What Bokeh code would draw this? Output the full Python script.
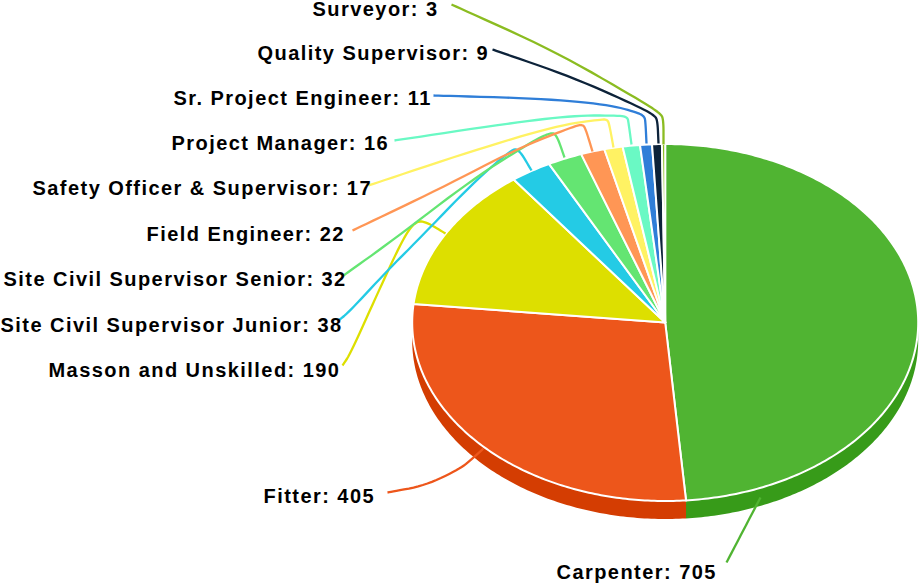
import math
from bokeh.plotting import figure
from bokeh.models import Range1d
from bokeh.core.properties import value
from bokeh.embed import file_html
from bokeh.resources import INLINE

categories = ["Carpenter", "Fitter", "Masson and Unskilled", "Site Civil Supervisor Junior",
              "Site Civil Supervisor Senior", "Field Engineer", "Safety Officer & Supervisor",
              "Project Manager", "Sr. Project Engineer", "Quality Supervisor", "Surveyor"]
values = [705, 405, 190, 38, 32, 22, 17, 16, 11, 9, 3]
colors = ["#50B432", "#ED561B", "#DDDF00", "#24CBE5", "#64E572", "#FF9655", "#FFF263",
          "#6AF9C4", "#2F7ED8", "#0D233A", "#8BBC21"]
side_colors = ["#379B19", "#D43D02"]

# layout
CX, CY, RX, RY, DEPTH = 664.7, 322, 253, 178.5, 18
label_left = [556, 263, 48, 0, 3, 146, 32, 171, 173, 257, 312]
label_mid = [571, 495, 369, 324, 278, 233, 187, 142, 97, 52, 8]
leaders = [
    [(726, 562), (760, 497)],
    [(387, 492), (425, 485), (460, 468), (472, 458), (483, 448)],
    [(342, 365), (350, 353), (377, 293), (403, 237), (415, 221), (425, 221), (445, 233)],
    [(338, 320), (348, 312), (387, 270), (417, 240), (473, 182), (510, 150), (518, 148), (531, 170)],
    [(343, 275), (392, 240), (473, 178), (530, 142), (550, 132), (556, 134), (564, 157)],
    [(352, 230), (440, 188), (517, 148), (573, 126), (582, 124), (585, 128), (592, 151)],
    [(368, 185), (473, 150), (557, 125), (600, 119), (607, 119), (609, 125), (613, 147)],
    [(394, 140), (507, 123), (573, 115), (620, 115), (627, 117), (628, 122), (631, 144)],
    [(433, 95), (540, 98), (607, 104), (637, 112), (644, 116), (645, 122), (646, 143)],
    [(492, 49), (573, 77), (640, 107), (654, 115), (657, 120), (658, 143)],
    [(451, 4), (553, 50), (640, 100), (660, 113), (663, 119), (663, 144)],
]


def pt(t, dy=0.0):
    return CX + RX * math.sin(t), CY - RY * math.cos(t) + dy


def smooth(points, n=3):
    for _ in range(n):
        out = [points[0]]
        for a, b in zip(points[:-1], points[1:]):
            out.append((0.75 * a[0] + 0.25 * b[0], 0.75 * a[1] + 0.25 * b[1]))
            out.append((0.25 * a[0] + 0.75 * b[0], 0.25 * a[1] + 0.75 * b[1]))
        out.append(points[-1])
        points = out
    return points


p = figure(width=919, height=584, output_backend="svg", toolbar_location=None,
           x_range=Range1d(0, 919), y_range=Range1d(584, 0),
           min_border=0, outline_line_color=None,
           styles={"letter-spacing": "1.45px"})
p.xaxis.visible = False
p.yaxis.visible = False
p.xgrid.visible = False
p.ygrid.visible = False

total = sum(values)
angles = [0.0]
for v in values:
    angles.append(angles[-1] + v / total * 2 * math.pi)

# rim of the pie
for i in range(2):
    a0, a1 = max(angles[i], math.pi / 2), min(angles[i + 1], 3 * math.pi / 2)
    ts = [a0 + (a1 - a0) * k / 120 for k in range(121)]
    upper = [pt(t) for t in ts]
    lower = [pt(t, DEPTH) for t in reversed(ts)]
    poly = upper + lower
    p.patch([q[0] for q in poly], [q[1] for q in poly], fill_color=side_colors[i], line_color=None)

# slices
for i, c in enumerate(colors):
    a0, a1 = angles[i], angles[i + 1]
    n = max(3, int((a1 - a0) * 80))
    rim = [pt(a0 + (a1 - a0) * k / n) for k in range(n + 1)]
    poly = [(CX, CY)] + rim
    p.patch([q[0] for q in poly], [q[1] for q in poly], fill_color=c,
            line_color="#FFFFFF", line_width=2, line_join="round")

# leaders
for pts, c in zip(leaders, colors):
    s = smooth(pts)
    p.line([q[0] for q in s], [q[1] for q in s], line_color=c, line_width=2.3, line_join="round")

# labels
texts = [f"{n}: {v}" for n, v in zip(categories, values)]
p.text(label_left, label_mid, text=texts, text_align="left", text_baseline="middle",
       text_font=value("Liberation Sans"), text_font_style="bold", text_font_size="20px",
       text_color="#000000")

open("out.html", "w").write(file_html(p, INLINE))
